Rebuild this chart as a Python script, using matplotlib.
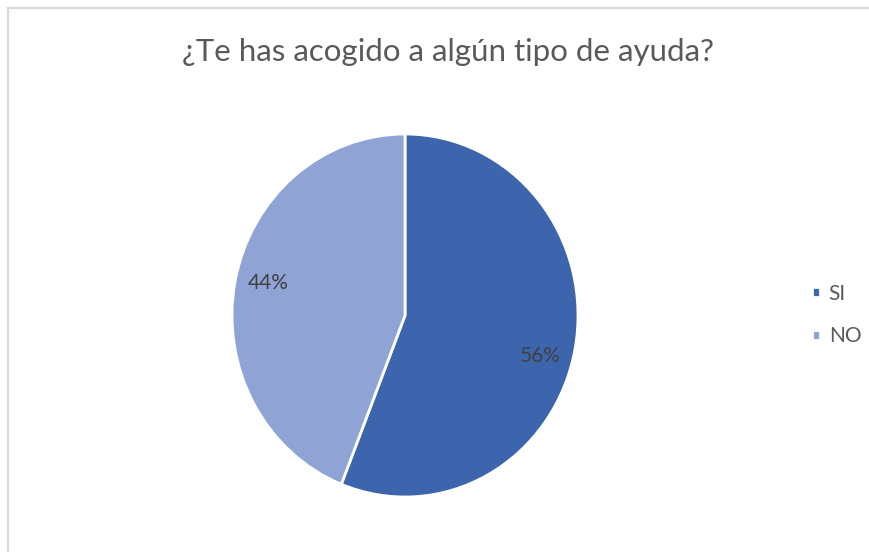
import matplotlib
matplotlib.use("Agg")
import numpy as np
import matplotlib.pyplot as plt
from matplotlib.lines import Line2D

# datos
categorias = ["SI", "NO"]
porcentajes = [56, 44]
colores = ["#3D65AD", "#8FA4D4"]
titulo = "¿Te has acogido a algún tipo de ayuda?"

plt.rcParams["font.family"] = ["Lato", "DejaVu Sans"]

W, H = 870, 552
fig = plt.figure(figsize=(W / 100, H / 100), dpi=100)

# borde gris (solo arriba e izquierda, como el recorte)
fig.add_artist(Line2D([8.5 / W, 1], [1 - 7.5 / H, 1 - 7.5 / H], color="#D9D9D9", lw=1.6))
fig.add_artist(Line2D([8.5 / W, 8.5 / W], [0, 1 - 7.5 / H], color="#D9D9D9", lw=1.6))

cx, cy, rx, ry = 405, 315.5, 173, 181.5
ax = fig.add_axes([(cx - rx) / W, (H - cy - ry) / H, 2 * rx / W, 2 * ry / H])
wedges, textos, autotextos = ax.pie(
    porcentajes, colors=colores, startangle=90, counterclock=False,
    autopct="%1.0f%%", pctdistance=0.8,
    wedgeprops=dict(edgecolor="white", linewidth=2.0),
    textprops=dict(color="#404040", fontsize=15),
)
# Excel coloca las etiquetas un poco giradas respecto al centro del sector
giro = [-5, -2]
for w, t, g in zip(wedges, autotextos, giro):
    ang = np.deg2rad((w.theta1 + w.theta2) / 2 + g)
    t.set_position((0.81 * np.cos(ang), 0.81 * np.sin(ang)))
ax.set_aspect("auto")
ax.set_xlim(-1, 1)
ax.set_ylim(-1, 1)

fig.text(448.5 / W, 1 - 52 / H, titulo, ha="center", va="center",
         fontsize=22.5, color="#595959")

fig.legend(wedges, categorias, loc="center left",
           bbox_to_anchor=(812 / W, 1 - 315 / H), frameon=False, borderpad=0,
           borderaxespad=0, fontsize=15, labelcolor="#595959",
           handlelength=0.4, handleheight=0.4, handletextpad=0.4, labelspacing=1.1)

fig.savefig("out.png", dpi=100, facecolor="white")
